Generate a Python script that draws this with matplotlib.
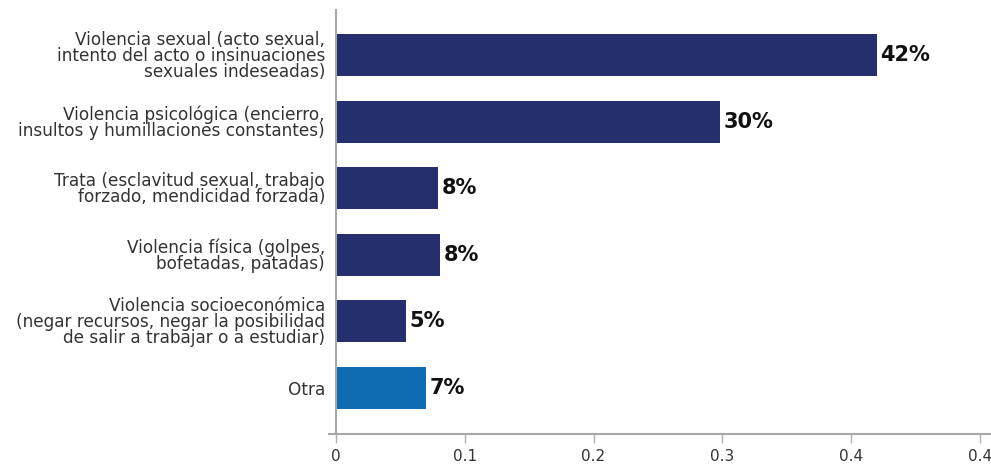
import matplotlib.pyplot as plt
import numpy as np

plt.rcParams['font.family'] = ['DejaVu Sans']

categories = [
    "Violencia sexual (acto sexual,\nintento del acto o insinuaciones\nsexuales indeseadas)",
    "Violencia psicológica (encierro,\ninsultos y humillaciones constantes)",
    "Trata (esclavitud sexual, trabajo\nforzado, mendicidad forzada)",
    "Violencia física (golpes,\nbofetadas, patadas)",
    "Violencia socioeconómica\n(negar recursos, negar la posibilidad\nde salir a trabajar o a estudiar)",
    "Otra",
]
shares = [0.42, 0.298, 0.079, 0.081, 0.054, 0.07]
colors = ["#262f6e"] * 5 + ["#0f6cb3"]
tick_vals = [0, 0.1, 0.2, 0.3, 0.4, 0.5]
tick_labels = ["0", "0.1", "0.2", "0.3", "0.4", "0.4"]

fig = plt.figure(figsize=(9.91, 4.65), dpi=100)
ax = fig.add_axes([0.332, 0.0677, 0.667, 0.911])

# spines first: moving a spine resets the tick objects
for s in ["top", "right"]:
    ax.spines[s].set_visible(False)
ax.spines["left"].set_position(("data", 0))
for s in ["left", "bottom"]:
    ax.spines[s].set_color("#a8a8a8")
    ax.spines[s].set_linewidth(1.5)

y = np.arange(len(categories))
ax.barh(y, shares, height=0.63, color=colors)

for yi, v in zip(y, shares):
    ax.text(v + 0.003, yi, f"{round(v * 100):.0f}%", va="center", ha="left",
            fontsize=15, fontweight="bold", color="#111111")

ax.set_ylim(5.69, -0.68)
ax.set_xlim(-0.0055, 0.508)

ax.tick_params(axis="y", length=0, pad=8, labelsize=12.2, labelcolor="#333333")
ax.tick_params(axis="x", length=6.5, width=1, color="#b0b0b0", pad=5,
               labelsize=11, labelcolor="#333333")

ax.set_yticks(y)
ax.set_yticklabels(categories)
ax.set_xticks(tick_vals)
ax.set_xticklabels(tick_labels)

fig.canvas.draw()
for lbl in ax.get_yticklabels():
    lbl.set_linespacing(0.86)

fig.savefig("out.png", dpi=100)
